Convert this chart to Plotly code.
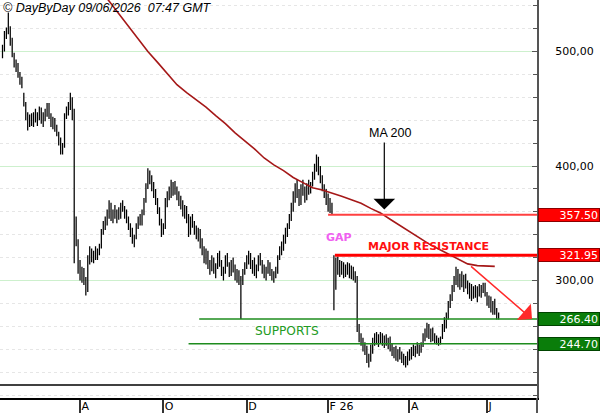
import pandas as pd
import plotly.graph_objects as go

# ---------------- data ----------------
START = "2025-06-06"
END = "2026-06-09"
HOLIDAYS = ["2025-12-25", "2025-12-26", "2026-01-01", "2026-04-03", "2026-04-06", "2026-05-01"]

open_ = [
    498, 503, 515, 518, 520, 508, 498, 490, 486, 480,
    474, 462, 455, 443, 436, 441, 438, 445, 441, 444,
    448, 440, 445, 446, 452, 443, 437, 440, 433, 429,
    421, 414, 418, 443, 449, 451, 458, 446, 350, 334,
    310, 305, 309, 300, 292, 318, 325, 320, 322, 324,
    326, 330, 343, 348, 352, 358, 365, 355, 360, 356,
    358, 355, 366, 362, 357, 354, 347, 341, 335, 338,
    348, 352, 350, 360, 370, 382, 392, 388, 382, 376,
    369, 362, 352, 342, 347, 368, 375, 378, 376, 384,
    378, 373, 369, 366, 360, 362, 353, 342, 352, 349,
    344, 340, 343, 332, 326, 320, 324, 313, 310, 318,
    309, 312, 320, 316, 307, 309, 318, 314, 306, 315,
    310, 303, 306, 300, 298, 307, 313, 318, 322, 312,
    316, 307, 311, 319, 316, 309, 305, 310, 314, 307,
    303, 305, 309, 320, 327, 330, 336, 343, 348, 355,
    365, 374, 380, 376, 368, 381, 378, 372, 383, 379,
    384, 392, 398, 405, 395, 388, 381, 376, 370, 366,
    362, 318, 296, 315, 309, 314, 312, 306, 312, 310,
    305, 309, 304, 302, 258, 250, 246, 241, 238, 232,
    230, 240, 247, 250, 247, 251, 248, 246, 249, 245,
    247, 241, 237, 239, 233, 237, 234, 231, 229, 231,
    235, 233, 240, 237, 241, 239, 242, 244, 251, 255,
    258, 252, 255, 250, 248, 246, 248, 250, 259, 265,
    270, 279, 285, 293, 300, 306, 298, 303, 297, 301,
    296, 292, 294, 286, 292, 289, 293, 290, 294, 295,
    288, 281, 284, 275, 279, 272, 269,
]
high = [
    506, 518, 521, 534, 522, 512, 499, 493, 490, 482,
    478, 464, 456, 447, 445, 446, 447, 450, 447, 452,
    451, 447, 450, 455, 455, 446, 443, 442, 436, 430,
    425, 420, 446, 452, 456, 464, 460, 450, 356, 336,
    318, 312, 311, 303, 322, 330, 328, 326, 330, 328,
    332, 345, 352, 356, 362, 370, 368, 362, 366, 362,
    364, 368, 370, 365, 362, 356, 350, 346, 340, 350,
    356, 358, 362, 372, 385, 398, 396, 392, 386, 380,
    372, 364, 354, 350, 372, 378, 382, 388, 386, 387,
    382, 378, 374, 370, 366, 365, 358, 356, 358, 352,
    348, 346, 345, 337, 330, 328, 326, 318, 322, 320,
    315, 324, 326, 318, 312, 322, 324, 316, 318, 320,
    314, 310, 309, 304, 310, 316, 322, 326, 324, 318,
    320, 314, 322, 324, 318, 314, 312, 318, 316, 310,
    308, 312, 322, 330, 334, 340, 346, 350, 358, 368,
    378, 385, 388, 380, 384, 388, 382, 385, 388, 386,
    395, 402, 410, 408, 400, 392, 384, 380, 376, 372,
    368, 321.95, 320, 321, 318, 317, 316, 314, 316, 315,
    313, 312, 308, 304, 262, 254, 250, 246, 243, 236,
    244, 250, 254, 255, 253, 255, 254, 252, 253, 250,
    251, 245, 242, 243, 240, 242, 238, 236, 234, 238,
    240, 242, 244, 243, 246, 244, 246, 254, 258, 263,
    262, 258, 259, 254, 252, 250, 251, 262, 268, 272,
    282, 288, 296, 304, 312, 310, 306, 308, 305, 306,
    300, 298, 297, 295, 296, 295, 297, 296, 298, 298,
    290, 287, 286, 282, 284, 276, 272,
]
low = [
    494, 500, 511, 515, 505, 495, 486, 482, 477, 471,
    468, 452, 440, 431, 434, 435, 434, 438, 435, 440,
    437, 434, 439, 443, 441, 434, 432, 430, 426, 418,
    410, 410, 416, 441, 444, 449, 440, 315, 330, 306,
    300, 298, 296, 287, 290, 314, 316, 315, 318, 318,
    322, 328, 340, 344, 348, 354, 352, 350, 354, 350,
    353, 354, 360, 354, 350, 344, 338, 332, 329, 336,
    345, 348, 348, 357, 368, 380, 384, 378, 372, 366,
    358, 348, 338, 340, 345, 364, 370, 372, 374, 375,
    370, 365, 362, 356, 354, 350, 338, 340, 346, 340,
    336, 334, 328, 322, 315, 314, 310, 305, 308, 306,
    302, 310, 312, 304, 300, 306, 312, 303, 304, 307,
    300, 298, 296, 266.4, 296, 305, 310, 314, 310, 306,
    304, 302, 308, 313, 306, 302, 300, 306, 304, 300,
    298, 302, 306, 318, 322, 326, 332, 338, 345, 352,
    360, 368, 372, 365, 366, 374, 368, 370, 375, 376,
    382, 388, 395, 392, 385, 378, 372, 366, 360, 359,
    357.5, 274, 292, 305, 303, 305, 302, 303, 305, 302,
    301, 300, 298, 255, 246, 243, 238, 235, 228, 224,
    229, 236, 243, 244, 242, 245, 243, 241, 243, 240,
    238, 234, 232, 230, 229, 231, 228, 226, 224, 226,
    230, 231, 234, 233, 236, 234, 237, 242, 247, 250,
    249, 246, 247, 245, 244, 243, 244, 249, 255, 258,
    266, 276, 282, 290, 296, 294, 292, 294, 290, 293,
    288, 284, 282, 284, 285, 281, 286, 285, 289, 286,
    278, 276, 272, 270, 270, 266, 266,
]
close = [
    503, 515, 518, 520, 508, 498, 490, 486, 480, 474,
    470, 455, 443, 436, 441, 438, 445, 441, 444, 448,
    440, 445, 446, 452, 443, 437, 440, 433, 429, 421,
    414, 418, 443, 449, 451, 458, 446, 350, 334, 310,
    305, 309, 300, 292, 318, 325, 320, 322, 324, 326,
    330, 343, 348, 352, 358, 365, 355, 360, 356, 358,
    355, 366, 362, 357, 354, 347, 341, 335, 338, 348,
    352, 350, 360, 370, 382, 392, 388, 382, 376, 369,
    362, 352, 342, 347, 368, 375, 378, 376, 384, 378,
    373, 369, 366, 360, 362, 353, 342, 352, 349, 344,
    340, 343, 332, 326, 320, 324, 313, 310, 318, 309,
    312, 320, 316, 307, 309, 318, 314, 306, 315, 310,
    303, 306, 300, 298, 307, 313, 318, 322, 312, 316,
    307, 311, 319, 316, 309, 305, 310, 314, 307, 303,
    305, 309, 320, 327, 330, 336, 343, 348, 355, 365,
    374, 380, 376, 368, 381, 378, 372, 383, 379, 384,
    392, 398, 405, 395, 388, 381, 376, 370, 366, 362,
    360, 296, 315, 309, 314, 312, 306, 312, 310, 305,
    309, 304, 302, 260, 250, 246, 241, 238, 232, 230,
    240, 247, 250, 247, 251, 248, 246, 249, 245, 247,
    241, 237, 239, 233, 237, 234, 231, 229, 231, 235,
    233, 240, 237, 241, 239, 242, 244, 251, 255, 258,
    252, 255, 250, 248, 246, 248, 250, 259, 265, 270,
    279, 285, 293, 300, 306, 298, 303, 297, 301, 296,
    292, 294, 286, 292, 289, 293, 290, 294, 295, 288,
    281, 284, 275, 279, 272, 269, 268,
]

# 200-day moving average, read at every 5th bar
ma_bar = [50, 55, 60, 65, 70, 75, 80, 85, 90, 95, 100, 105, 110, 115, 120, 125, 130,
          135, 140, 145, 150, 155, 160, 165, 170, 175, 180, 185, 190, 195, 200, 205,
          210, 215, 220, 225, 230, 235, 240, 245, 250, 254]
ma_200 = [555, 544, 533, 522, 511, 500, 490.5, 481, 471, 464, 458, 451.5, 444, 437, 429,
          422, 415, 407, 401, 396, 390, 385.5, 381, 379, 376.5, 373.5, 370.5, 367.5, 363,
          359, 353.5, 348, 342.5, 337, 332, 327.5, 323, 319, 314.5, 313, 312.5, 312.3]

# key levels
levels = [357.50, 321.95, 266.40, 244.70]
level_from = ["2026-02-02", "2026-02-05 12:00", "2025-10-27 12:00", "2025-10-20"]
level_line_color = ["#ff4040", "#ff0000", "#1e8c1e", "#1e8c1e"]
level_line_width = [2, 3, 1.5, 1.5]
level_box_color = ["#ff0000", "#ff0000", "#0a7d0a", "#0a7d0a"]
level_box_border = ["#8a0000", "#8a0000", "#004400", "#004400"]

month_ticks = ["2025-08-01", "2025-10-01", "2025-12-01", "2026-02-02", "2026-04-01", "2026-06-01"]
month_labels = ["A", "O", "D", "F 26", "A", "J"]

y_ticks = [300, 400, 500]
y_tick_labels = ["300,00", "400,00", "500,00"]

X_RANGE = ["2025-06-04 17:00", "2026-07-06 19:00"]
Y_RANGE = [197.38, 544.98]

# ---------------- figure ----------------
dates = pd.bdate_range(START, END, freq="C", holidays=HOLIDAYS)[:len(close)]

fig = go.Figure()
fig.add_trace(go.Ohlc(
    x=dates, open=open_, high=high, low=low, close=close,
    increasing=dict(line=dict(color="black", width=1.25)),
    decreasing=dict(line=dict(color="black", width=1.25)),
    tickwidth=0.3, hoverinfo="skip", showlegend=False,
))
fig.add_trace(go.Scatter(
    x=dates[ma_bar], y=ma_200, mode="lines",
    line=dict(color="#a51818", width=1.6), hoverinfo="skip", showlegend=False,
))

shapes = []
annotations = []
for lv, start, lc, lw, bc, bb in zip(levels, level_from, level_line_color, level_line_width,
                                     level_box_color, level_box_border):
    shapes.append(dict(type="line", xref="x", yref="y", x0=start, x1=X_RANGE[1],
                       y0=lv, y1=lv, line=dict(color=lc, width=lw), layer="above"))
    annotations.append(dict(xref="paper", x=1, xanchor="left", xshift=1, yref="y", y=lv,
                            text=f"{lv:.2f}", showarrow=False, bgcolor=bc, bordercolor=bb,
                            borderwidth=1, borderpad=1, width=58, height=10, align="right",
                            font=dict(family="DejaVu Sans", size=11, color="white")))

# separator line above the date strip
shapes.append(dict(type="line", xref="paper", yref="paper", x0=0, x1=1,
                   y0=13 / 398, y1=13 / 398, line=dict(color="black", width=1.5)))
# axis line continues through the date strip
shapes.append(dict(type="line", xref="paper", yref="paper", x0=1, x1=1,
                   y0=0, y1=-16 / 398, line=dict(color="#555555", width=2)))

annotations += [
    dict(xref="paper", yref="paper", x=0, y=1, xanchor="left", yanchor="top",
         xshift=1, yshift=1, showarrow=False,
         text="© DayByDay 09/06/2026 \u00a007:47 GMT",
         font=dict(family="Liberation Sans", size=12.5, color="black", style="italic")),
    dict(x="2026-03-18", y=428.8, text="MA 200", showarrow=False,
         font=dict(family="Liberation Sans", size=12.5, color="black")),
    dict(x="2026-03-13", y=362.0, ax="2026-03-13", ay=421.8, axref="x", ayref="y",
         text="", showarrow=True, arrowhead=1, arrowsize=3, arrowwidth=1.2,
         arrowcolor="black"),
    dict(x="2026-07-02 05:00", y=266.4, ax="2026-05-19", ay=313.5, axref="x", ayref="y",
         text="", showarrow=True, arrowhead=1, arrowsize=2.4, arrowwidth=1.5,
         arrowcolor="#ff2a2a"),
    dict(x="2026-02-09 14:00", y=337.6, text="GAP", showarrow=False,
         font=dict(family="DejaVu Sans", size=11, color="#f060f0", weight="bold")),
    dict(x="2026-04-17", y=330.1, text="MAJOR RESISTANCE", showarrow=False,
         font=dict(family="DejaVu Sans", size=11, color="#ff1010", weight="bold")),
    dict(x="2026-01-02", y=255.9, text="SUPPORTS", showarrow=False,
         font=dict(family="DejaVu Sans", size=12.2, color="#239b23")),
]

fig.update_layout(
    width=600, height=413,
    margin=dict(l=0, r=63, t=0, b=15, pad=0),
    paper_bgcolor="white", plot_bgcolor="white",
    showlegend=False,
    shapes=shapes, annotations=annotations,
    xaxis=dict(
        type="date", range=X_RANGE,
        rangebreaks=[dict(bounds=["sat", "mon"]), dict(values=HOLIDAYS)],
        rangeslider=dict(visible=False),
        tickmode="array", tickvals=month_ticks, ticktext=month_labels,
        ticks="outside", ticklen=15, tickwidth=1.5, tickcolor="#333333",
        ticklabelposition="outside right", ticklabelstandoff=-3,
        tickfont=dict(family="DejaVu Sans", size=11, color="black"),
        showline=True, linecolor="black", linewidth=1.5,
        showgrid=False, zeroline=False, fixedrange=True,
    ),
    yaxis=dict(
        side="right", range=Y_RANGE,
        tickmode="array", tickvals=y_ticks, ticktext=y_tick_labels,
        ticks="inside", ticklen=5, tickwidth=1, tickcolor="#555555",
        tickfont=dict(family="DejaVu Sans", size=11, color="black"),
        ticklabelstandoff=14,
        showline=True, linecolor="#555555", linewidth=2,
        showgrid=True, gridcolor="#cdf0cd", gridwidth=1, zeroline=False,
        minor=dict(dtick=20, tick0=0, ticks="inside", ticklen=4, tickcolor="#555555",
                   showgrid=True, gridcolor="#e6e6e6", griddash="dot"),
        fixedrange=True,
    ),
)

fig.write_html("out.html", include_plotlyjs=True, config={"displayModeBar": False},
               post_script="document.body.style.margin='0';")
